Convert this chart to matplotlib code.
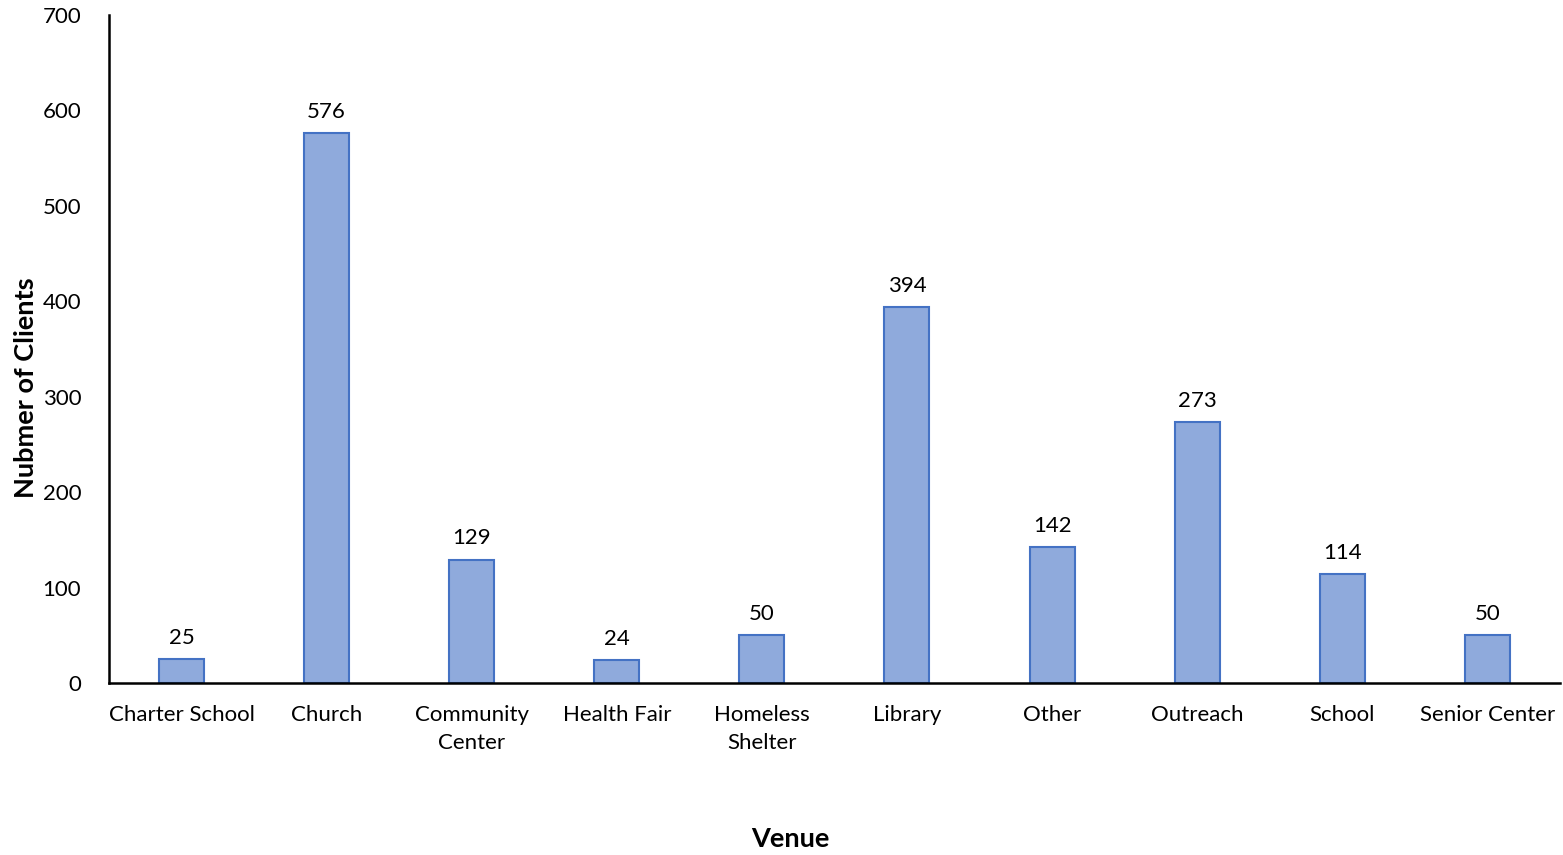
import matplotlib.pyplot as plt

plt.rcParams['font.family'] = ['Lato', 'DejaVu Sans']

venues = ['Charter School', 'Church', 'Community\nCenter', 'Health Fair', 'Homeless\nShelter',
          'Library', 'Other', 'Outreach', 'School', 'Senior Center']
clients = [25, 576, 129, 24, 50, 394, 142, 273, 114, 50]

fig = plt.figure(figsize=(15.63, 8.55), dpi=100)
ax = fig.add_axes([0.0697, 0.2012, 0.9283, 0.7813])

x = range(len(venues))
bars = ax.bar(x, clients, width=0.31, color='#8FAADC', edgecolor='#4472C4', linewidth=1.5)
for xi, v in zip(x, clients):
    ax.text(xi, v + 12, str(v), ha='center', va='bottom', fontsize=16)

ax.set_xlim(-0.5, len(venues) - 0.5)
ax.set_ylim(0, 700)
ax.set_yticks(range(0, 701, 100))
ax.set_xticks(list(x))
ax.set_xticklabels(venues, fontsize=16, linespacing=1.5)
ax.tick_params(axis='y', length=0, labelsize=16, pad=20)
ax.tick_params(axis='x', length=0, pad=16)

for side in ['top', 'right']:
    ax.spines[side].set_visible(False)
ax.spines['left'].set_linewidth(1.8)
ax.spines['bottom'].set_linewidth(1.8)

ax.set_ylabel('Nubmer of Clients', fontsize=19.5, fontweight='bold')
ax.yaxis.set_label_coords(-0.049, 0.442)
fig.text(0.5055, 0.005, 'Venue', ha='center', va='bottom', fontsize=19.5, fontweight='bold')

fig.savefig('out.png', dpi=100)
plt.close(fig)
